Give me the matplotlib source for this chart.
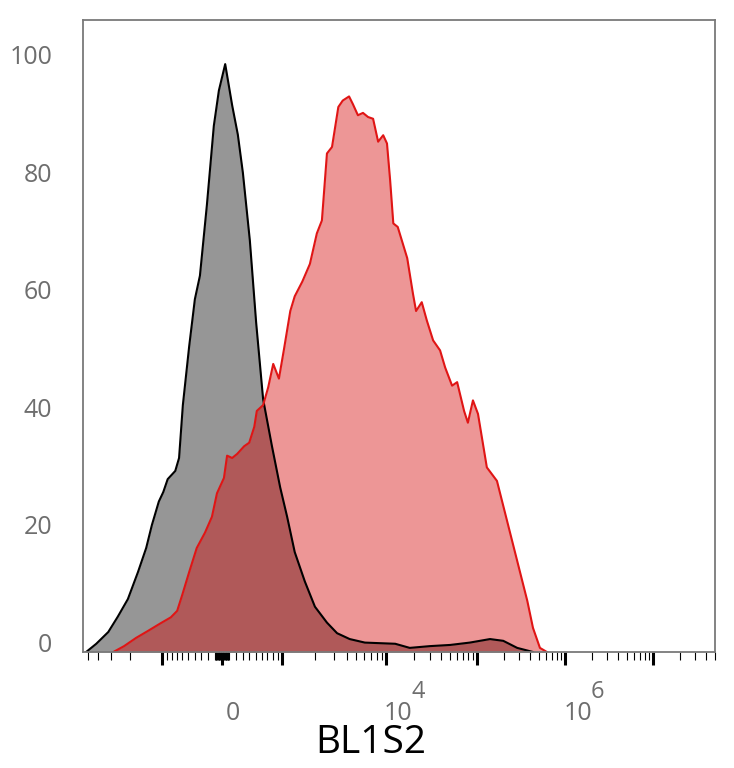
import numpy as np
import matplotlib
matplotlib.use("Agg")
import matplotlib.pyplot as plt

# histogramas em canal de exibição (0-1000 na escala logicle), % do máximo
black_ch = [5, 21, 40, 55, 71, 87, 100, 109, 120, 127, 134, 146, 152, 158, 168, 177, 185, 196, 207, 215,
            225, 236, 245, 253, 264, 274, 285, 299, 312, 323, 335, 351, 367, 386, 402, 422, 446, 470, 494, 517,
            549, 581, 612, 644, 665, 687, 712]
black_pct = [0, 1.4, 3.4, 6, 9, 13.6, 17.7, 21.6, 25.6, 27.2, 29.4, 30.8, 33, 42, 52, 60, 64, 76, 89.5, 95.5,
             100, 93, 88, 81.5, 70, 56, 43, 35, 28, 23, 17, 12, 7.7, 5, 3.2, 2.2, 1.6, 1.5, 1.4, 0.7,
             1.0, 1.2, 1.6, 2.2, 1.9, 0.7, 0]

red_ch = [48, 65, 84, 103, 123, 139, 149, 157, 168, 180, 193, 204, 212, 223, 228, 236, 244, 255, 263, 271,
          275, 285, 293, 301, 310, 318, 328, 335, 347, 359, 370, 378, 386, 394, 404, 411, 421, 427, 435, 443,
          451, 459, 467, 475, 481, 486, 491, 498, 513, 522, 527, 536, 544, 554, 565, 573, 584, 592, 603, 609,
          617, 625, 639, 655, 671, 687, 703, 712, 723, 734]
red_pct = [0, 1, 2.4, 3.6, 4.9, 5.9, 7, 9.7, 13.6, 17.7, 20.3, 23, 27, 29.6, 33.4, 33, 33.7, 35, 35.6, 38.3,
           41, 42, 45, 49, 46.5, 51.5, 58, 60.5, 63, 66, 71.2, 73.4, 84.8, 85.9, 92.7, 93.8, 94.5, 93.2, 91.3, 91.7,
           91, 90.7, 86.8, 87.9, 86.5, 80.2, 72.9, 72.3, 67, 61, 58, 59.5, 56.4, 53, 51.3, 48.4, 45.3, 45.9, 41, 39,
           42.8, 40.5, 31.4, 29.1, 22.3, 15.5, 8.7, 4.1, 0.7, 0]

y_ticks = [0, 20, 40, 60, 80, 100]
x_labeled = [0, 1e4, 1e6]
x_labels = ["0", "10", "10"]
x_exps = ["4", "6"]
x_label = "BL1S2"

# parametros da escala logicle
T, W, M, A = 5e7, 0.8, 6.4, 0.78


def logicle(T, W, M, A):
    w = W / (M + A)
    x2 = A / (M + A)
    x1 = x2 + w
    x0 = x2 + 2 * w
    b = (M + A) * np.log(10)
    lo, hi = 1e-9, b
    for _ in range(200):
        d = 0.5 * (lo + hi)
        if 2 * (np.log(d) - np.log(b)) + w * (b + d) > 0:
            hi = d
        else:
            lo = d
    ca = np.exp(x0 * (b + d))
    mfa = np.exp(b * x1) - ca * np.exp(-d * x1)
    a = T / (np.exp(b) - mfa - ca * np.exp(-d))
    c = ca * a
    f = -mfa * a

    def S(x):
        x = np.asarray(x, float)
        xr = np.where(x >= x1, x, 2 * x1 - x)
        v = a * np.exp(b * xr) - c * np.exp(-d * xr) + f
        return np.where(x >= x1, v, -v)
    return S


S = logicle(T, W, M, A)
grid = np.linspace(0, 1, 200001)
grid_vals = S(grid)


def to_ch(v):
    return 1000 * np.interp(v, grid_vals, grid)


major_vals = [-1e3, 0, 1e3, 1e4, 1e5, 1e6, 1e7]
minor_vals = [m * 10 ** k for k in range(1, 8) for m in range(1, 10) if not (m == 1 and k >= 3)]
minor_vals = minor_vals + [-v for v in minor_vals]
minor_vals = [v for v in minor_vals if grid_vals[0] <= v <= grid_vals[-1]]

label_gray = "#6e6e6e"
fnt = "Open Sans"

fig = plt.figure(figsize=(7.34, 7.68), dpi=100)
ax = fig.add_axes([83 / 734, 1 - 652 / 768, 632 / 734, 632 / 768])

ax.fill_between(black_ch, black_pct, color="#969696", lw=0)
ax.plot(black_ch, black_pct, color="black", lw=1.5)
ax.fill_between(red_ch, red_pct, color=(0.84, 0.02, 0.02), alpha=0.42, lw=0)
ax.plot(red_ch, red_pct, color="#e01515", lw=1.5)

ax.set_xlim(0, 1000)
ax.set_ylim(0, 107.5)

ax.set_xticks(to_ch(major_vals))
ax.set_xticks(to_ch(minor_vals), minor=True)
ax.tick_params(axis="x", which="major", length=9, width=2.2, color="black", labelbottom=False)
ax.tick_params(axis="x", which="minor", length=5.5, width=0.8, color="black")

# rotulos do eixo x a direita do tick, com expoente separado
for v, txt in zip(x_labeled, x_labels):
    dx = 2.5 if txt == "0" else -1.5
    ax.annotate(txt, xy=(to_ch(v), 0), xycoords=("data", "axes fraction"),
                xytext=(dx, -49), textcoords="offset points", ha="left", va="baseline",
                fontsize=18, color=label_gray, family=fnt)
for v, e in zip(x_labeled[1:], x_exps):
    ax.annotate(e, xy=(to_ch(v), 0), xycoords=("data", "axes fraction"),
                xytext=(18.5, -33), textcoords="offset points", ha="left", va="baseline",
                fontsize=17, color=label_gray, family=fnt)

ax.set_yticks(y_ticks)
ax.set_yticklabels([str(t) for t in y_ticks], color=label_gray, fontsize=18, family=fnt)
ax.tick_params(axis="y", length=0, pad=22)
plt.setp(ax.get_yticklabels(), va="baseline")

for s in ax.spines.values():
    s.set_color("#7a7a7a")
    s.set_linewidth(1.3)

fig.text(371 / 734, 1 - 743 / 768, x_label, ha="center", va="center", fontsize=28, family=fnt)

fig.savefig("out.png", dpi=100)
